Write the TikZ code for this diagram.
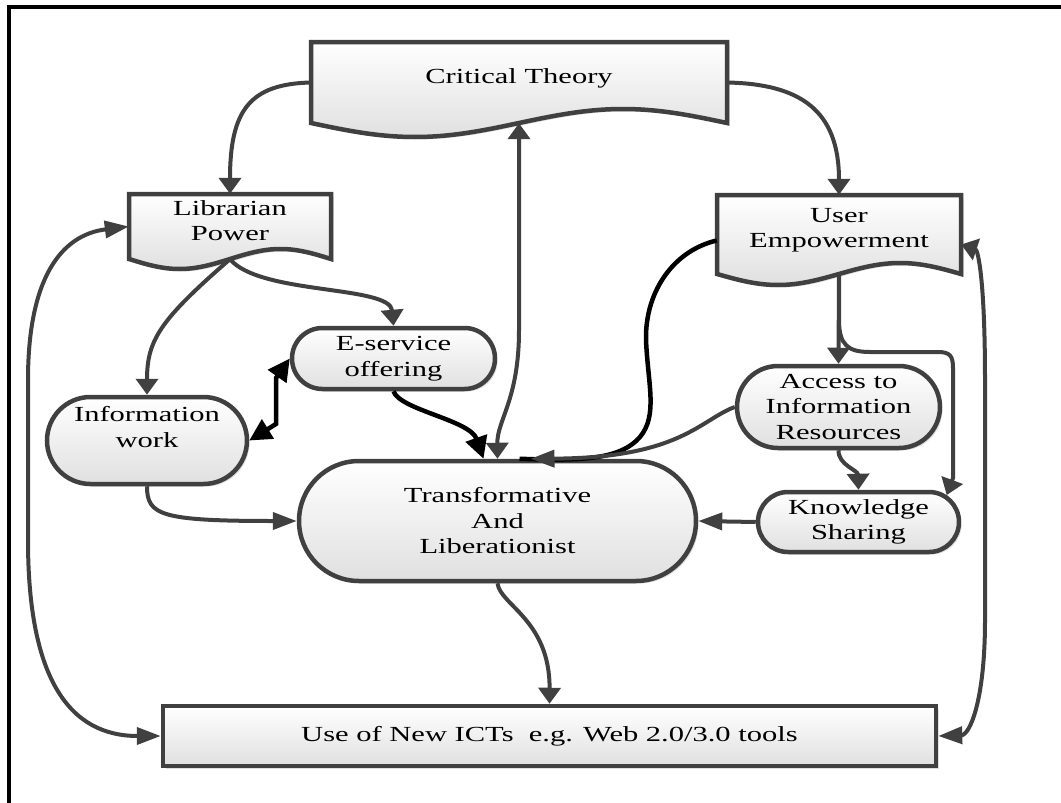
\documentclass[tikz,border=0pt]{standalone}
\usepackage{fontspec}
\setmainfont{Liberation Serif}[FakeStretch=1.42]
\usetikzlibrary{arrows.meta,shapes.misc,shadows}

\definecolor{linegray}{HTML}{404040}
\definecolor{boxbottom}{HTML}{E0E0E0}

\tikzset{
  lbl/.style={font=\fontsize{21.5}{25.5}\selectfont, text=black, align=center},
  shapebox/.style={draw=linegray, line width=4.5pt, top color=white, bottom color=boxbottom,
    drop shadow={shadow xshift=2.5pt, shadow yshift=-2.5pt, fill=black!25, opacity=0.5}},
  pill/.style={shapebox, lbl, rounded rectangle, inner sep=0pt},
  doclabel/.style={lbl, rectangle, inner sep=0pt, text depth=13pt},
  conn/.style={draw=linegray, line width=4pt},
  bconn/.style={draw=black, line width=4.5pt},
  tipv/.tip={Triangle[length=16pt,width=22pt]},
  tiph/.tip={Triangle[length=24pt,width=17pt]},
  tipb/.tip={Triangle[length=22pt,width=22pt]},
}

% document shape: flat top, straight sides, one sine period along the bottom
\newcommand\docshape[5]{%
  \pgfmathsetmacro\dsa{#1+0.25*(#3-#1)}%
  \pgfmathsetmacro\dsb{#1+0.5*(#3-#1)}%
  \pgfmathsetmacro\dsc{#1+0.75*(#3-#1)}%
  \path[shapebox] (#1,#2) -- (#3,#2) -- (#3,#4) sin (\dsc,#4-#5) cos (\dsb,#4)
    sin (\dsa,#4+#5) cos (#1,#4) -- cycle;}

\begin{document}
\begin{tikzpicture}[x=1pt,y=-1pt]
\useasboundingbox (0,0) rectangle (1061,803);

% frame
\draw[black, line width=4pt] (9,803) -- (9,7) -- (1061,7);

% document shapes
\docshape{311}{42}{727}{123}{14}
\node[doclabel, minimum width=416pt, minimum height=81pt] (ct) at (519,82.5) {Critical Theory};
\docshape{129}{194}{331}{259}{10}
\node[doclabel, minimum width=202pt, minimum height=65pt, text depth=12pt] (lp) at (230,226.5) {Librarian\\Power};
\docshape{717}{195}{961}{274}{11}
\node[doclabel, minimum width=244pt, minimum height=79pt] (ue) at (839,234.5) {User\\Empowerment};

% terminator shapes
\node[pill, minimum width=203pt, minimum height=61pt] (es) at (393.5,358.5) {E-service\\offering};
\node[pill, minimum width=200pt, minimum height=87pt, text depth=27pt] (iw) at (147,440.5) {Information\\work};
\node[pill, minimum width=397pt, minimum height=120pt] (t) at (497.5,521) {Transformative\\And\\Liberationist};
\node[pill, minimum width=203pt, minimum height=82pt] (ac) at (838.5,407) {Access to\\Information\\Resources};
\node[pill, minimum width=201pt, minimum height=60pt] (ks) at (858.5,522) {Knowledge\\Sharing};

% bottom box
\node[shapebox, lbl, rectangle, inner sep=0pt, minimum width=773pt, minimum height=60pt] (ict) at (549.5,736)
  {Use of New ICTs~ e.g. Web 2.0/3.0 tools};

% connectors
\draw[conn, -tipv] (ct.west) .. controls (250,84) and (230,110) .. (lp.north);
\draw[conn, -tipv] (ct.east) .. controls (800,84) and (839,110) .. (ue.north);
\draw[conn, tipv-tipv] (ct.south) -- (519,330) .. controls (519,400) and (497,420) .. (t.north);
\draw[conn, -tipv] (lp.south) .. controls (160,320) and (147,340) .. (iw.north);
\draw[conn, -tipv] (lp.south) .. controls (260,295) and (390,285) .. (es.north);
\draw[bconn, tipb-tipb] (iw.east) -- (276,424) -- (276,378) -- (es.west);
\draw[bconn, -tipb] (es.south) .. controls (400,410) and (470,420) .. ([xshift=-14pt]t.north);
\draw[conn, -tiph] (iw.south) .. controls (147,515) and (160,521) .. (t.west);
\draw[conn, -tipv] (t.south) .. controls (500,605) and (550,620) .. (ict.north);
\draw[conn, tiph-tiph] (lp.west) .. controls (60,235) and (28,280) .. (28,380) -- (28,540)
  .. controls (28,680) and (70,736) .. (ict.west);
\draw[conn, tipv-tiph] ([yshift=-10pt]ue.east) .. controls (978,250) and (985,280) .. (985,380) -- (985,620)
  .. controls (985,700) and (970,735) .. (ict.east);
\draw[bconn] ([yshift=-6pt]ue.west) .. controls (675,250) and (645,290) .. (646,340)
  .. controls (648,385) and (658,415) .. (640,437) .. controls (620,460) and (580,461) .. ([xshift=22pt]t.north);
\draw[conn, -tipv] (ue.south) -- (ac.north);
\draw[conn, -tipv] (ue.south) -- (839,320) .. controls (839,345) and (848,352) .. (870,352) -- (938,352)
  .. controls (950,352) and (953,356) .. (953,368) -- (953,478) -- (ks.17);
\draw[conn, -tipv] (ac.south) .. controls (838,465) and (858,470) .. (ks.north);
\draw[conn, -tiph] (ac.west) .. controls (700,420) and (680,458) .. ([xshift=33pt]t.north);
\draw[conn, -tiph] (ks.west) -- (t.east);
\end{tikzpicture}
\end{document}
